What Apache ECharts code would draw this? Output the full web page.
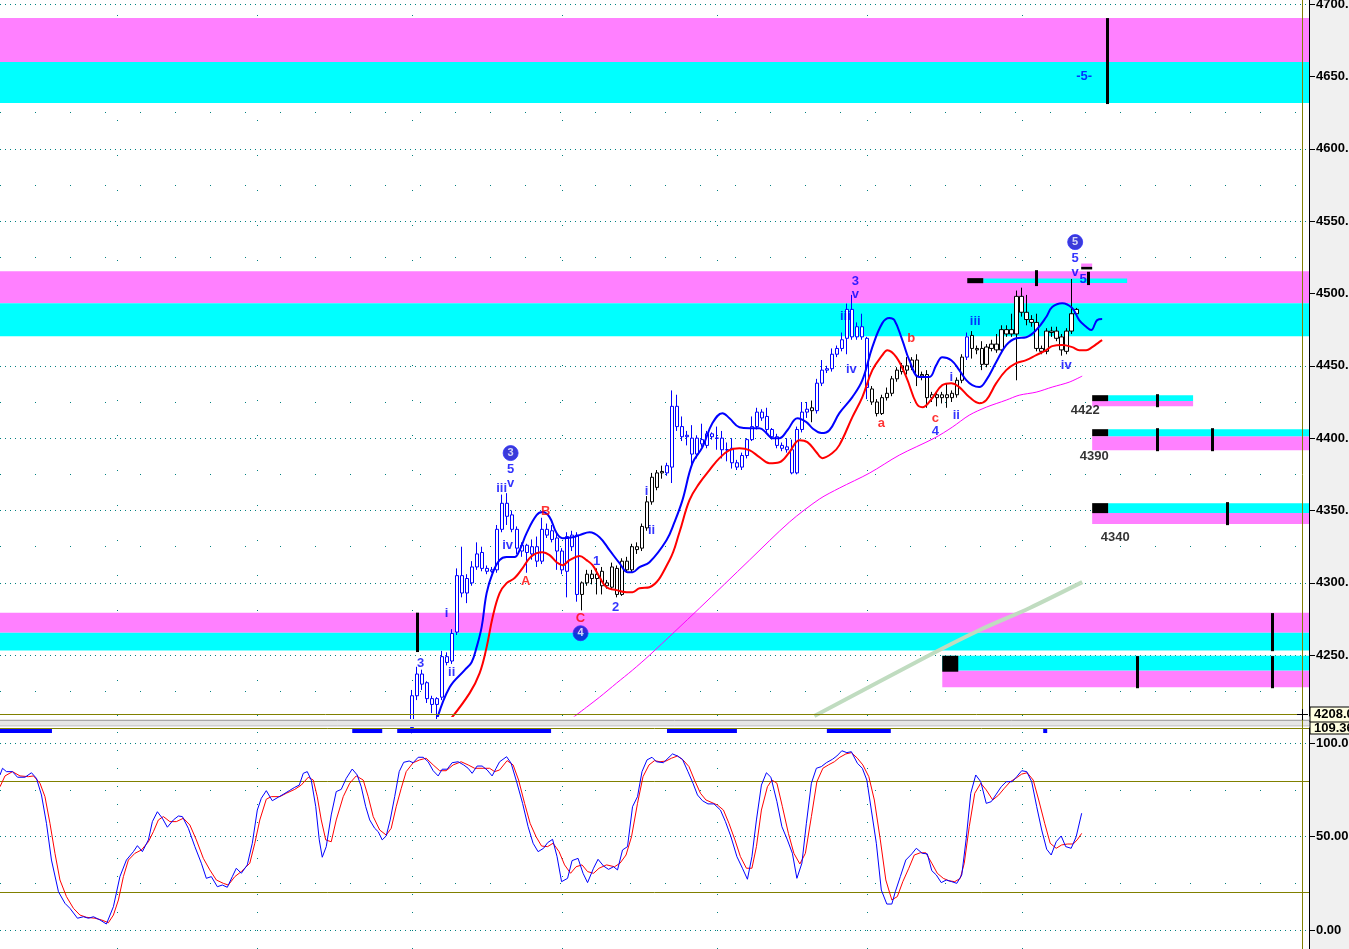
<!DOCTYPE html>
<html><head><meta charset="utf-8">
<script src="https://cdn.jsdelivr.net/npm/echarts@6/dist/echarts.min.js"></script>
<style>html,body{margin:0;padding:0;background:#fff;overflow:hidden}#c{width:1349px;height:949px}</style>
</head><body><div id="c"></div>
<script>
// ---------------- DATA ----------------
const barCount = 262;
const firstBar = 82;
const opens  = [4200,4222,4237,4231,4220,4216,4221,4249,4246,4266,4305,4293,4300,4311,4321,4310,4308,4309,4337,4355,4347,4337,4322,4326,4320,4325,4315,4337,4336,4331,4322,4308,4325,4333,
4292,4300,4306,4303,4308,4298,4297,4310,4292,4315,4309,4325,4324,4338,4356,4366,4377,
4376,4380,4422,4408,4401,4400,4389,4396,4395,4403,4400,4400,4392,4393,4383,4380,4388,4399,4408,4418,4415,4406,4401,4395,4394,4392,4376,4406,4418,
4419,
4419,4438,4448,4448,4458,4462,4469,4489,4477,4477,4469,
4434,4425,4417,4428,4431,4441,4446,4450,4449,4454,4443,4444,4428,4430,4428,4430,4428,4430,4440,
4456,
4471,4462,4462,4451,4462,4465,4461,4475,4472,4472,4498,4487,4482,4480,4462,4460,4474,4474,4470,4460,4474,4486];
const closes = [4222,4237,4230,4220,4216,4220,4249,4245,4265,4305,4293,4303,4311,4320,4310,4308,4309,4337,4355,4346,4337,4324,4326,4321,4325,4315,4337,4333,4330,4322,4309,4332,4333,4292,
4300,4306,4303,4306,4298,4300,4311,4292,4315,4309,4325,4323,4339,4356,4373,4376,4376,
4381,4422,4408,4401,4402,4389,4400,4399,4403,4401,4400,4392,4392,4383,4380,4388,4399,4408,4418,4414,4406,4401,4395,4393,4392,4376,4406,4418,4420,
4421,
4438,4447,4447,4458,4462,4468,4489,4470,4470,4470,4435,
4425,4417,4428,4431,4441,4447,4450,4447,4454,4443,4444,4428,4430,4428,4430,4428,4431,4440,4456,
4470,
4462,4461,4451,4463,4465,4461,4475,4472,4475,4498,4487,4482,4480,4462,4460,4474,4473,4469,4461,4474,4486,4489];
const highs  = [4226,4242,4240,4232,4222,4221,4253,4252,4268,4310,4325,4306,4315,4328,4325,4312,4311,4340,4361,4362,4350,4339,4328,4327,4330,4332,4345,4341,4340,4335,4324,4335,4336,4335,
4301,4309,4309,4310,4311,4302,4314,4312,4317,4318,4327,4328,4341,4360,4376,4378,4381,
4383,4433,4430,4415,4405,4409,4402,4410,4405,4404,4408,4405,4397,4400,4385,4390,4400,4415,4421,4420,4421,4407,4403,4397,4400,4399,4408,4425,4425,
4426,
4441,4454,4450,4462,4464,4473,4493,4499,4480,4486,4470,
4436,4427,4430,4435,4443,4449,4452,4456,4456,4458,4446,4447,4432,4432,4432,4438,4433,4442,4458,
4473,
4474,4464,4467,4465,4468,4472,4478,4478,4486,4502,4504,4499,4485,4486,4464,4476,4477,4477,4472,4476,4510,4490];
const lows   = [4196,4219,4226,4217,4210,4205,4219,4243,4244,4264,4290,4286,4298,4309,4308,4306,4307,4307,4335,4340,4335,4320,4318,4307,4316,4311,4313,4331,4328,4309,4306,4290,4322,4287,
4281,4298,4299,4292,4292,4296,4295,4290,4291,4307,4307,4320,4322,4336,4354,4364,4372,
4374,4369,4405,4398,4395,4380,4386,4394,4393,4399,4392,4386,4384,4379,4378,4378,4386,4398,4406,4412,4404,4399,4393,4391,4390,4375,4375,4404,4414,
4411,
4417,4436,4445,4446,4456,4460,4458,4468,4468,4468,4427,
4423,4415,4416,4426,4429,4439,4444,4444,4447,4436,4440,4421,4425,4422,4424,4421,4425,4428,4438,
4454,
4455,4458,4447,4449,4460,4459,4459,4470,4470,4440,4484,4478,4477,4460,4458,4458,4470,4467,4457,4458,4472,4485];
// b = blue candle, k = black candle
const barColors = 'bbbbbbbbbbbbbbbbbbbbbbbbbbbbbbbbbb' + 'kkkkkkkkkkkkkkkkk' + 'bbbbbbbbbbbbbbbbbbbbbbbbbbbbb' + 'k' + 'bbbbbbbbbbb' + 'kkkkkkkkkkkkkkkkkkk' + 'b' + 'kkkkkkkkkkkkkkkkkkkkkk';

// moving averages: [bar, price]
const maBlue = [[86.9,4205.1],[89.5,4227.9],[92.5,4239.7],[93.9,4245.2],[94.9,4255.6],[95.9,4269.4],[96.9,4292.9],[98.1,4306.7],[99.5,4315.7],[100.9,4317.8],[102.5,4317.8],[103.5,4322.6],[104.9,4334.4],[106.9,4346.8],[108.1,4348.9],[109.5,4345.4],[110.9,4334.4],[112.1,4330.9],[114.1,4331.6],[115.5,4333],[117.5,4335],[119.5,4331.6],[121.5,4322.6],[123.5,4313.6],[125.1,4307.4],[126.1,4307.4],[127.5,4310.9],[129.5,4314.3],[132.9,4329.5],[134.5,4342],[136.1,4357.2],[138.1,4382.7],[140.1,4393.8],[142.1,4410.4],[144.1,4417.3],[145.5,4413.8],[147.5,4407.6],[149.5,4406.9],[151.5,4406.9],[152.9,4403.5],[154.1,4400],[155.5,4400],[157.1,4405.5],[159.1,4413.8],[160.9,4411.1],[162.1,4406.9],[163.9,4403.5],[165.5,4405.5],[167.5,4417.3],[170.1,4428.4],[172.1,4440.1],[174.1,4462.9],[176.1,4479.5],[177.5,4483],[178.5,4481.6],[180.1,4467.8],[181.5,4453.9],[183.5,4442.2],[185.5,4442.2],[186.9,4450.5],[188.1,4456],[189.9,4453.9],[191.5,4447],[192.9,4440.1],[194.1,4436.7],[195.5,4435.3],[196.9,4440.1],[198.9,4452.6],[200.9,4464.3],[202.9,4469.1],[204.9,4469.8],[206.9,4474.7],[208.9,4483.7],[210.1,4490.6],[212.1,4493.3],[214.1,4489.9],[215.5,4481.6],[216.9,4477],[217.9,4474.7],[219.1,4481.6],[220.1,4482.3]];
const maRed = [[89.5,4205.1],[93.5,4223.8],[95.5,4237.6],[96.9,4255.6],[98.1,4276.3],[99.5,4292.9],[100.9,4299.8],[102.5,4303.3],[104.1,4310.2],[105.5,4317.1],[106.9,4320.5],[108.1,4321.2],[109.5,4319.2],[110.9,4314.3],[112.1,4312.2],[113.5,4315.7],[115.5,4318.5],[116.9,4315.7],[118.1,4312.2],[119.5,4304],[120.9,4297],[122.9,4295],[124.9,4293.6],[126.1,4293.6],[127.5,4296.3],[129.5,4297],[133.5,4315.7],[135.5,4335],[137.5,4357.2],[139.5,4368.9],[141.5,4377.9],[143.5,4386.2],[145.5,4391.7],[147.5,4393.1],[149.5,4391.7],[151.5,4386.9],[153.5,4382.7],[155.5,4383.4],[157.5,4390.3],[159.5,4398.6],[161.1,4397.3],[162.9,4390.3],[164.1,4386.2],[166.1,4389.7],[167.5,4395.2],[170.1,4414.5],[172.1,4428.4],[174.1,4447],[176.1,4457.4],[177.1,4460.8],[178.9,4456],[180.9,4442.2],[182.9,4424.2],[184.1,4421.4],[186.1,4427.7],[188.1,4436.7],[189.9,4438],[191.5,4435.3],[193.5,4428.4],[195.5,4424.2],[196.9,4426.3],[198.9,4438],[200.9,4447],[202.9,4451.9],[204.9,4453.9],[206.9,4457.4],[208.9,4460.8],[210.1,4463.6],[212.1,4464.3],[214.1,4462.9],[215.5,4460.8],[216.9,4460.8],[218.1,4462.9],[219.5,4466.4],[220.1,4467.8]];
const maMagenta = [[113.5,4205.1],[116.9,4214.1],[119.5,4221],[122.9,4230.7],[126.1,4239.7],[129.5,4250],[139.5,4282.5],[149.5,4315.7],[157.5,4342],[163.5,4357.9],[167.5,4365.5],[173.5,4375.8],[179.5,4388.3],[186.5,4400],[190.1,4407.6],[193.5,4415.9],[196.9,4421.4],[200.9,4426.3],[203.5,4429.7],[206.9,4431.8],[210.1,4435.3],[213.5,4438.7],[216.1,4442.9]];
const maGreen = [[162.5,4208],[185.5,4250],[195.5,4267.3],[205.5,4282.5],[216.1,4300.5]];

// stochastic %K (blue) and %D (red): [bar, value]
const stochK = [[-0.5,83.1],[0,86.7],[0.8,84.9],[2,84.9],[3,81.9],[4.5,81.9],[5.8,84.3],[6.8,81.3],[7.8,72.4],[8.8,57.2],[9.8,37.5],[11.2,20.5],[12.5,14.3],[13.5,11.6],[15,6.3],[16.2,7.1],[17.2,6.3],[18.2,7.1],[19.5,5.4],[20.8,3.2],[22.2,12.5],[23.5,28.6],[24.8,37.5],[26.2,42],[27,45.2],[28,42],[29.2,48.3],[30,58.1],[31,63.4],[32,59.9],[33,55.1],[34.2,59],[35.2,61.1],[36,60.8],[37.2,54.5],[38.5,44.7],[39.8,35.8],[40.8,27.7],[41.8,28.6],[43,23.2],[44,24.1],[45,22.9],[46,28.6],[46.8,33.1],[47.8,30.4],[49,34.9],[50,46.5],[51,64.3],[51.8,70.6],[52.8,74.7],[54,69.3],[55.2,71.2],[56.3,72.9],[57.4,74.7],[58.5,76.5],[59.4,77.7],[60.2,84],[61,84.9],[61.8,80.4],[62.7,66.1],[63.4,48.3],[64,39],[64.8,44.7],[65.8,61.7],[66.8,74.2],[67.8,75.4],[68.8,81.3],[70,86.3],[71,83.1],[71.8,76.8],[72.7,66.1],[73.5,59],[74.5,54.5],[75.2,52.7],[76,48.3],[76.8,50.4],[77.6,59],[78.5,71.5],[79.4,84.9],[80.3,89.9],[81.4,90.6],[82.2,89.7],[83.2,92.6],[84.2,92.6],[85.2,90.2],[86.2,85.4],[87.2,82.6],[88,86.2],[89,86.2],[90,89.7],[91.2,90.2],[92.3,88.5],[93.2,86.7],[94,84],[95,87.9],[96,87.9],[97,85.8],[98,82.6],[98.8,86.7],[99.5,90.2],[100.9,92.9],[101.8,89.4],[102.9,79.5],[104.1,67.9],[105.2,55.4],[106.2,46.5],[107.2,42],[108.3,43.8],[109.1,46.8],[110.1,48.6],[111,39.3],[111.9,25.9],[113.1,27.7],[114,37.2],[115.2,38.4],[116.2,30.4],[117.1,25.4],[118.3,33.1],[119.2,37.9],[120.3,34.3],[121.3,32.5],[122.3,33.9],[123.1,32.2],[124.1,42.9],[125.1,44.7],[126.1,66.1],[127.1,71.5],[128,84.9],[129,91.2],[130,92.6],[130.9,90.2],[132.3,89.7],[133.2,92.1],[134.1,94.4],[135.1,93.3],[136.1,91.5],[137.2,84.9],[138.2,78.7],[139.1,72.4],[140.1,69.3],[141.2,67.6],[142.4,67.6],[143.7,64.3],[144.7,58.1],[145.8,50],[147,39.3],[148.1,33.1],[149.1,27.2],[150,39.3],[150.9,59],[151.9,77.7],[152.9,84.3],[153.8,81.9],[155,68.8],[156,55.4],[157.1,48.3],[158.1,41.1],[159,27.7],[160,35.8],[160.9,57.2],[161.9,78.7],[162.9,86.7],[163.9,87.6],[164.9,89.7],[166.1,91.5],[167,93.3],[168,96.1],[169,95.1],[169.9,95.6],[171.1,89.4],[172.1,86.7],[173,80.4],[173.9,64.3],[174.9,46.5],[175.9,21.4],[177,13.9],[178,13.9],[178.7,20.5],[179.7,28.6],[180.8,37.5],[182,40.8],[182.9,43.8],[184.1,41.1],[185.1,40.8],[186,31.8],[186.9,29.5],[187.9,25.4],[188.9,26.8],[190,25.9],[191,25],[192,29.5],[192.9,49.2],[193.8,73.3],[194.8,83.1],[195.8,79.5],[196.9,67.9],[197.9,68.8],[198.8,72.4],[199.9,76.8],[200.9,79.5],[202.1,79.5],[203,82.2],[204,85.4],[205,84.9],[206,79.5],[207,66.1],[208,53.6],[209,43.3],[209.9,40.2],[210.9,47.3],[211.9,50.4],[212.8,44.7],[213.9,43.8],[214.9,50],[216,62.6]];
const stochD = [[-0.5,76.8],[0.5,82.6],[2,84.9],[3.5,82.6],[5.2,82.2],[6.2,82.6],[7.5,78.7],[8.5,71.5],[9.5,57.2],[10.5,41.1],[11.5,26.8],[12.8,17.9],[14.2,11.6],[15.5,8],[16.8,6.8],[18.5,6.3],[19.8,5.4],[21.2,3.9],[22.2,8],[23.2,16.1],[24.2,28.6],[25.2,37.5],[26.5,41.1],[27.8,42.9],[29.2,47.3],[30.2,52.7],[31.2,59],[32.2,60.8],[33.5,58.1],[34.8,58.1],[36.2,59.9],[37.5,56.3],[38.8,48.3],[40.2,38.4],[41.5,32.2],[42.8,26.8],[44.2,25],[45.2,24.1],[46.5,28.6],[47.8,31.3],[49.5,35.8],[50.5,46.5],[51.5,59],[52.8,70.1],[53.8,71.5],[55.5,71.5],[56.8,73.3],[58.5,75.4],[59.8,77.7],[61.2,81.9],[62.2,80.4],[63,71.5],[63.8,59],[64.7,48.3],[65.8,47.3],[66.8,59],[68.2,71.5],[69.5,78.7],[70.8,82.6],[72.2,80.4],[73.2,71.5],[74.2,60.8],[75.5,53.6],[76.8,50.9],[77.8,54.5],[78.8,66.1],[79.8,75.9],[80.8,84.9],[82.2,89.7],[83.5,91.2],[84.8,92.1],[86.2,88.5],[87.5,85.4],[88.8,85.4],[90.2,88.5],[91.8,90.2],[93.2,88.5],[94.5,86.7],[96.2,86.7],[97.5,86.7],[98.5,84.9],[99.5,85.8],[101,90.8],[102.2,88.5],[103.3,80.4],[104.5,67.9],[105.6,57.2],[106.8,50],[107.9,45],[109.1,44.7],[110.2,46.5],[111.4,42],[112.5,34.9],[113.7,30.4],[114.8,33.9],[116,34.9],[117.1,31.3],[118.3,30.4],[119.4,33.1],[120.9,34.9],[122.5,33.9],[123.6,35.8],[124.8,40.2],[125.9,50],[127.1,67.9],[128.2,82.2],[129.4,88.5],[130.5,90.8],[131.6,90.2],[132.8,90.6],[133.9,92.1],[135.1,93.3],[136.2,91.2],[137.4,87.6],[138.5,80.4],[139.7,73.3],[140.8,69.7],[142,68.3],[143.1,67],[144.3,64.3],[145.4,57.2],[146.6,48.3],[147.7,39.3],[148.9,33.1],[150,33.1],[150.9,44.7],[151.9,64.3],[153.1,76.8],[154,80.4],[155,78.7],[156.1,66.1],[157.3,51.8],[158.4,41.1],[159.6,35.4],[160.7,41.1],[161.9,60.8],[163,79.5],[164.2,86.7],[165.3,88.5],[166.5,90.2],[167.6,92.6],[168.8,94.4],[169.9,95.1],[171.1,92.1],[172.2,88.5],[173.4,82.2],[174.5,69.7],[175.7,48.3],[176.8,26.8],[178,16.1],[179.1,17.9],[180.2,25.9],[181.4,33.1],[182.5,40.2],[183.7,41.4],[184.8,41.4],[186,35.8],[187.1,30.4],[188.3,27.7],[189.4,26.4],[190.6,25.9],[191.7,27.7],[192.5,35.8],[193.5,55.4],[194.6,73.3],[195.8,78.7],[196.9,75.1],[198.2,69.7],[199.4,72.4],[200.5,75.9],[201.7,79.5],[202.8,81.3],[204,83.6],[205.1,84.3],[206.3,80.4],[207.4,69.7],[208.6,57.2],[209.7,46.5],[210.9,43.8],[212,45.6],[213.2,46.1],[214.3,46.1],[215.1,48.3],[216,51.8]];

// zones: [fromBar, toBar, lowPrice, highPrice]
const pinkZones = [[-0.5,261.5,4660,4690.3],[-0.5,261.5,4493.3,4515.4],[-0.5,261.5,4265.6,4279.4],[188.1,261.5,4227.8,4239.5],[218.1,238.3,4422.1,4425.6],[218.1,261.5,4391.7,4401.4],[218.1,261.5,4340.6,4348.2],[215.9,218.1,4518.4,4520.7]];
const cyanZones = [[-0.5,261.5,4631.6,4660],[-0.5,261.5,4470.5,4493.3],[-0.5,261.5,4253.2,4265.6],[188.1,261.5,4239.5,4249.6],[221.3,238.3,4425.6,4429.7],[221.3,261.5,4401.4,4406.2],[221.3,261.5,4348.2,4355.1],[196.3,225.1,4507.2,4510.4]];
const blackBlocks = [[188.1,191.3,4238.6,4249.6],[218.1,221.3,4425.6,4429.7],[218.1,221.3,4401.4,4406.2],[218.1,221.3,4348.2,4355.1],[193.1,196.3,4507.1,4510.6],[215.9,218.1,4516.6,4518.4]];
// vertical marker ticks: [bar, lowPrice, highPrice]
const markerTicks = [[83,4252.2,4279.4],[254.1,4252.8,4279.1],[254.1,4227.2,4249.4],[227.1,4227.2,4249.4],[221.1,4630.9,4690.3],[231.1,4421.4,4430.4],[231.1,4391,4406.9],[242.1,4391,4406.9],[245.1,4339.9,4355.8],[206.9,4505.1,4516.1],[217.3,4505.8,4515]];
// stochastic panel top strip segments: [fromBar, toBar]
const strips = [[-0.5,9.9],[70,76],[79,109.8],[133,147],[165,177.8],[208.3,209.1]];

// wave labels: [bar, price, text]
const blueLabels = [[83.7,4244.5,'3'],[88.9,4279.1,'i'],[89.9,4238.3,'ii'],[99.9,4365.5,'iii'],[101.7,4368.9,'v'],[101.7,4378.6,'5'],[101.1,4326.1,'iv'],[118.9,4315,'1'],[122.7,4283.2,'2'],[128.9,4363.4,'i'],[129.9,4336.4,'ii'],[170.7,4508.5,'3'],[170.7,4499.6,'v'],[168.7,4484.3,'iii'],[169.9,4447.7,'iv'],[186.7,4404.9,'4'],[189.9,4442.2,'i'],[190.9,4415.9,'ii'],[194.7,4480.9,'iii'],[212.9,4450.5,'iv'],[214.7,4524.4,'5'],[214.7,4514.8,'v'],[216.3,4509.9,'5'],[216.5,4650.2,'-5-']];
const redLabels = [[104.7,4301.2,'A'],[108.7,4349.6,'B'],[115.7,4275.6,'C'],[175.9,4410.4,'a'],[181.9,4469.1,'b'],[186.7,4413.8,'c']];
const circleLabels = [[101.7,4389.7,'3'],[115.7,4265.2,'4'],[214.7,4535.5,'5']];
const levelLabels = [[216.7,4419.4,'4422'],[218.5,4387.6,'4390'],[222.7,4331.6,'4340']];

// axis
const priceTicks = [4250,4300,4350,4400,4450,4500,4550,4600,4650,4700];
const priceMidTicks = [4225,4275,4325,4375,4425,4475,4525,4575,4625,4675];
const stochTicks = [0,50,100];
const timeLines = [22.9,50.9,82,112,143,173,204.1];

// ---------------- CHART ----------------
const BLUE = '#0000ff', BLACK = '#000000';
const cats = [];
for (let i = 0; i < barCount; i++) cats.push(String(i));
const candleData = cats.map((c, i) => {
  const k = i - firstBar;
  if (k < 0 || k >= opens.length) return '-';
  const col = barColors[k] === 'b' ? BLUE : BLACK;
  return { value: [opens[k], closes[k], lows[k], highs[k]],
    itemStyle: { color: '#ffffff', color0: col, borderColor: col, borderColor0: col } };
});
const area = (arr, color) => arr.map(z => [{ coord: [z[0], z[2]], itemStyle: { color } }, { coord: [z[1], z[3]] }]);
const dense = { color: '#008080', width: 1, type: [1, 4] };
const sparse = { color: '#008080', width: 1, type: [1, 34] };
const lblFont = { fontFamily: 'Liberation Sans', fontWeight: 'bold' };

const option = {
  animation: false,
  backgroundColor: '#ffffff',
  grid: [
    { left: 0, top: 0, width: 1309, height: 716, containLabel: false, outerBoundsMode: 'none' },
    { left: 0, top: 728, width: 1309, height: 221, containLabel: false, outerBoundsMode: 'none' }
  ],
  xAxis: [
    { type: 'category', gridIndex: 0, data: cats, boundaryGap: true, show: false },
    { type: 'value', gridIndex: 0, min: -0.5, max: 261.5, show: false },
    { type: 'value', gridIndex: 1, min: -0.5, max: 261.5, show: false }
  ],
  yAxis: [
    { type: 'value', gridIndex: 0, position: 'right', min: 4208, max: 4702.8, scale: true,
      axisLine: { show: true, onZero: false, lineStyle: { color: '#000', width: 1 } },
      axisTick: { show: true, customValues: priceTicks, length: 6, lineStyle: { color: '#000' } },
      axisLabel: { show: true, customValues: priceTicks, margin: 7, color: '#000', fontSize: 13, ...lblFont, formatter: v => v.toFixed(2) },
      splitLine: { show: false } },
    { type: 'value', gridIndex: 1, position: 'right', min: -10.2, max: 108.3,
      axisLine: { show: true, onZero: false, lineStyle: { color: '#000', width: 1 } },
      axisTick: { show: true, customValues: stochTicks, length: 6, lineStyle: { color: '#000' } },
      axisLabel: { show: true, customValues: stochTicks, margin: 7, color: '#000', fontSize: 13, ...lblFont, formatter: v => v.toFixed(2) },
      splitLine: { show: false } }
  ],
  graphic: [
    { type: 'rect', z: -10, shape: { x: 1309, y: 0, width: 40, height: 949 }, style: { fill: '#f0f0f0' } },
    { type: 'rect', z: 50, shape: { x: 0, y: 719, width: 1349, height: 8 }, style: { fill: '#e6e6e6' } },
    { type: 'line', z: 50, shape: { x1: 0, y1: 720.5, x2: 1349, y2: 720.5 }, style: { stroke: '#a8a8a8', lineWidth: 1 } },
    { type: 'line', z: 50, shape: { x1: 0, y1: 725.5, x2: 1349, y2: 725.5 }, style: { stroke: '#cfcfcf', lineWidth: 1 } },
    { type: 'line', z: 60, shape: { x1: 0, y1: 714.5, x2: 1302, y2: 714.5 }, style: { stroke: '#808000', lineWidth: 1 } },
    { type: 'line', z: 60, shape: { x1: 0, y1: 728.5, x2: 1309, y2: 728.5 }, style: { stroke: '#808000', lineWidth: 1 } },
    { type: 'line', z: 60, shape: { x1: 1302.5, y1: 0, x2: 1302.5, y2: 949 }, style: { stroke: '#808000', lineWidth: 1 } },
    { type: 'line', z: 61, shape: { x1: 1297, y1: 714.5, x2: 1308, y2: 714.5 }, style: { stroke: '#000', lineWidth: 1 } },
    { type: 'line', z: 61, shape: { x1: 1302.5, y1: 709, x2: 1302.5, y2: 720 }, style: { stroke: '#000', lineWidth: 1 } },
    { type: 'rect', z: 70, shape: { x: 1310, y: 721, width: 40, height: 13 }, style: { fill: '#ffffe1', stroke: '#000', lineWidth: 1 } },
    { type: 'text', z: 71, x: 1314, y: 722, style: { text: '109.36', fill: '#000', font: 'bold 13px "Liberation Sans"' } },
    { type: 'rect', z: 72, shape: { x: 1310, y: 707, width: 40, height: 15 }, style: { fill: '#ffffe1', stroke: '#000', lineWidth: 1 } },
    { type: 'text', z: 73, x: 1314, y: 708, style: { text: '4208.00', fill: '#000', font: 'bold 13px "Liberation Sans"' } }
  ],
  series: [
    { name: 'grid', type: 'line', xAxisIndex: 1, yAxisIndex: 0, data: [], silent: true,
      markLine: { silent: true, z: 0, symbol: ['none', 'none'], label: { show: false }, animation: false,
        data: [
          ...priceTicks.map(v => ({ yAxis: v, lineStyle: dense })),
          ...priceMidTicks.map(v => ({ yAxis: v, lineStyle: sparse })),
          ...timeLines.map(v => ({ xAxis: v, lineStyle: sparse }))
        ] } },
    { name: 'zones', type: 'line', xAxisIndex: 1, yAxisIndex: 0, data: [], silent: true,
      markArea: { silent: true, z: 1, label: { show: false },
        data: [...area(pinkZones, '#ff80ff'), ...area(cyanZones, '#00ffff'), ...area(blackBlocks, '#000000')] } },
    { name: 'price', type: 'candlestick', xAxisIndex: 0, yAxisIndex: 0, z: 2, barWidth: 4, clip: true,
      data: candleData },
    { name: 'magenta', type: 'line', xAxisIndex: 1, yAxisIndex: 0, z: 3, data: maMagenta, smooth: 0.3, symbol: 'none', clip: true,
      lineStyle: { color: '#ff00ff', width: 1 } },
    { name: 'green', type: 'line', xAxisIndex: 1, yAxisIndex: 0, z: 3, data: maGreen, smooth: 0.3, symbol: 'none', clip: true,
      lineStyle: { color: '#c0dcc0', width: 4 } },
    { name: 'red', type: 'line', xAxisIndex: 1, yAxisIndex: 0, z: 3, data: maRed, smooth: 0.4, symbol: 'none', clip: true,
      lineStyle: { color: '#ff0000', width: 2 } },
    { name: 'blue', type: 'line', xAxisIndex: 1, yAxisIndex: 0, z: 3, data: maBlue, smooth: 0.4, symbol: 'none', clip: true,
      lineStyle: { color: '#0000ff', width: 2 } },
    { name: 'ticks', type: 'line', xAxisIndex: 1, yAxisIndex: 0, data: [], silent: true,
      markLine: { silent: true, z: 4, symbol: ['none', 'none'], label: { show: false },
        lineStyle: { color: '#000', width: 3, type: 'solid' },
        data: markerTicks.map(t => [{ coord: [t[0], t[1]] }, { coord: [t[0], t[2]] }]) } },
    { name: 'blueLabels', type: 'scatter', xAxisIndex: 1, yAxisIndex: 0, z: 5, symbolSize: 1, silent: true,
      itemStyle: { color: 'rgba(0,0,0,0)' },
      label: { show: true, position: 'inside', color: BLUE, fontSize: 13, ...lblFont, formatter: p => p.data[2] },
      data: blueLabels },
    { name: 'redLabels', type: 'scatter', xAxisIndex: 1, yAxisIndex: 0, z: 5, symbolSize: 1, silent: true,
      itemStyle: { color: 'rgba(0,0,0,0)' },
      label: { show: true, position: 'inside', color: '#ff0000', fontSize: 13, ...lblFont, formatter: p => p.data[2] },
      data: redLabels },
    { name: 'levelLabels', type: 'scatter', xAxisIndex: 1, yAxisIndex: 0, z: 5, symbolSize: 1, silent: true,
      itemStyle: { color: 'rgba(0,0,0,0)' },
      label: { show: true, position: 'inside', color: '#000', fontSize: 13, ...lblFont, formatter: p => p.data[2] },
      data: levelLabels },
    { name: 'circles', type: 'scatter', xAxisIndex: 1, yAxisIndex: 0, z: 6, symbol: 'circle', symbolSize: 15, silent: true,
      itemStyle: { color: '#0a0ad0', borderColor: '#3030ff', borderWidth: 1 },
      label: { show: true, position: 'inside', color: '#fff', fontSize: 11, ...lblFont, formatter: p => p.data[2] },
      data: circleLabels },
    // lower panel
    { name: 'stochGrid', type: 'line', xAxisIndex: 2, yAxisIndex: 1, data: [], silent: true,
      markLine: { silent: true, z: 0, symbol: ['none', 'none'], label: { show: false },
        data: [
          ...stochTicks.map(v => ({ yAxis: v, lineStyle: dense })),
          { yAxis: 75, lineStyle: sparse }, { yAxis: 25, lineStyle: sparse },
          { yAxis: 80, lineStyle: { color: '#808000', width: 1, type: 'solid' } },
          { yAxis: 20, lineStyle: { color: '#808000', width: 1, type: 'solid' } },
          ...timeLines.map(v => ({ xAxis: v, lineStyle: { color: '#008080', width: 1, type: [1, 17] } }))
        ] },
      markArea: { silent: true, z: 1, label: { show: false },
        data: strips.map(s => [{ coord: [s[0], 105.6], itemStyle: { color: '#0000ff' } }, { coord: [s[1], 107.8] }]) } },
    { name: '%D', type: 'line', xAxisIndex: 2, yAxisIndex: 1, z: 3, data: stochD, symbol: 'none',
      lineStyle: { color: '#ff0000', width: 1 } },
    { name: '%K', type: 'line', xAxisIndex: 2, yAxisIndex: 1, z: 3, data: stochK, symbol: 'none',
      lineStyle: { color: '#0000ff', width: 1 } }
  ]
};
const chart = echarts.init(document.getElementById('c'), null, { renderer: 'canvas' });
chart.setOption(option);
</script>
</body></html>
